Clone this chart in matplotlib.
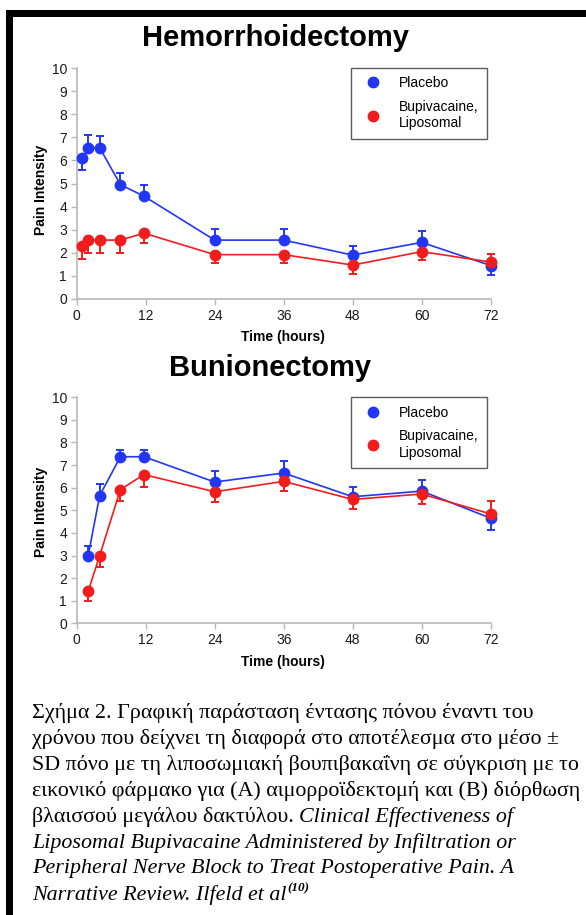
import matplotlib
matplotlib.use("Agg")
import matplotlib.pyplot as plt
from matplotlib.lines import Line2D
from matplotlib.patches import Rectangle

# hemorrhoidectomy: time (h), mean pain and one-sided SD (+1 up, -1 down)
hem_hours = [1, 2, 4, 7.6, 11.7, 24, 36, 48, 60, 72]
hem_placebo = [6.1, 6.55, 6.55, 4.95, 4.45, 2.55, 2.55, 1.9, 2.45, 1.45]
hem_placebo_sd = [0.5, 0.55, 0.5, 0.5, 0.5, 0.5, 0.5, 0.4, 0.5, 0.42]
hem_placebo_dir = [-1, 1, 1, 1, 1, 1, 1, 1, 1, -1]
hem_lipo = [2.3, 2.55, 2.55, 2.55, 2.85, 1.92, 1.92, 1.47, 2.05, 1.6]
hem_lipo_sd = [0.57, 0.58, 0.56, 0.56, 0.42, 0.36, 0.36, 0.37, 0.37, 0.33]
hem_lipo_dir = [-1, -1, -1, -1, -1, -1, -1, -1, -1, 1]

# bunionectomy
bun_hours = [2, 4, 7.6, 11.7, 24, 36, 48, 60, 72]
bun_placebo = [3.0, 5.65, 7.37, 7.37, 6.25, 6.65, 5.6, 5.85, 4.65]
bun_placebo_sd = [0.4, 0.5, 0.32, 0.32, 0.47, 0.52, 0.42, 0.51, 0.53]
bun_placebo_dir = [1, 1, 1, 1, 1, 1, 1, 1, -1]
bun_lipo = [1.42, 3.0, 5.92, 6.58, 5.82, 6.28, 5.48, 5.72, 4.84]
bun_lipo_sd = [0.43, 0.53, 0.51, 0.55, 0.44, 0.43, 0.44, 0.43, 0.56]
bun_lipo_dir = [-1, -1, -1, -1, -1, -1, -1, -1, 1]

x_ticks = [0, 12, 24, 36, 48, 60, 72]
y_ticks = list(range(0, 11))
labels = ["Placebo", "Bupivacaine,\nLiposomal"]

BLUE = "#2236f5"
RED = "#f21c1c"
GRAY = "#b8b8b8"

plt.rcParams["font.family"] = ["Liberation Sans", "DejaVu Sans"]

W, H = 586, 915
fig = plt.figure(figsize=(W / 100, H / 100), dpi=100)


def fx(px):
    return px / W


def fy(py):
    return 1 - py / H


def draw_series(ax, hours, vals, sd, dirs, color):
    lower = [s if d < 0 else 0 for s, d in zip(sd, dirs)]
    upper = [s if d > 0 else 0 for s, d in zip(sd, dirs)]
    ax.errorbar(hours, vals, yerr=[lower, upper], fmt="none", ecolor=color,
                elinewidth=1.4, capsize=3, capthick=1.4, zorder=2, clip_on=False)
    ax.plot(hours, vals, color=color, lw=1.2, marker="o", ms=7.5,
            zorder=3, clip_on=False)


def panel(rect, hours, plc, plc_sd, plc_dir, lip, lip_sd, lip_dir):
    ax = fig.add_axes(rect)
    draw_series(ax, hours, plc, plc_sd, plc_dir, BLUE)
    draw_series(ax, hours, lip, lip_sd, lip_dir, RED)
    ax.set_xlim(0, 72)
    ax.set_ylim(0, 10)
    ax.set_xticks(x_ticks)
    ax.set_yticks(y_ticks)
    for s in ["top", "right"]:
        ax.spines[s].set_visible(False)
    for s in ["left", "bottom"]:
        ax.spines[s].set_color(GRAY)
        ax.spines[s].set_linewidth(1.2)
    ax.tick_params(color=GRAY, length=4, width=1, labelsize=10,
                   labelcolor="#1a1a1a", pad=3)
    handles = [Line2D([], [], ls="none", marker="o", ms=7.5, color=BLUE),
               Line2D([], [], ls="none", marker="o", ms=7.5, color=RED)]
    leg = ax.legend(handles, labels, loc="upper right", bbox_to_anchor=(0.99, 1.0),
                    borderaxespad=0, fancybox=False, fontsize=10, handlelength=2,
                    handletextpad=0.85, borderpad=0.6, labelspacing=0.7)
    leg.get_frame().set_edgecolor("#333333")
    leg.get_frame().set_linewidth(1.0)
    return ax


panel([fx(76.7), fy(299), 414 / W, 231 / H],
      hem_hours, hem_placebo, hem_placebo_sd, hem_placebo_dir,
      hem_lipo, hem_lipo_sd, hem_lipo_dir)
panel([fx(76.7), fy(623.3), 414 / W, 226 / H],
      bun_hours, bun_placebo, bun_placebo_sd, bun_placebo_dir,
      bun_lipo, bun_lipo_sd, bun_lipo_dir)

# panel titles and axis labels
fig.text(fx(275), fy(38), "Hemorrhoidectomy", ha="center", va="center",
         fontsize=21, fontweight="bold")
fig.text(fx(270), fy(368), "Bunionectomy", ha="center", va="center",
         fontsize=21, fontweight="bold")
for yc in [190, 512]:
    fig.text(fx(41), fy(yc), "Pain Intensity", ha="center", va="center",
             rotation=90, fontsize=10, fontweight="bold")
for yc in [337, 662]:
    fig.text(fx(283), fy(yc), "Time (hours)", ha="center", va="center",
             fontsize=10, fontweight="bold")

# black frame along top and left edges
fig.add_artist(Rectangle((fx(6), fy(16.5)), (W - 6) / W, 6.5 / H,
                         transform=fig.transFigure, color="black", lw=0))
fig.add_artist(Rectangle((fx(6), 0), 6.5 / W, fy(10),
                         transform=fig.transFigure, color="black", lw=0))

# caption in serif type, regular Greek followed by the italic reference
serif = ["Liberation Serif", "DejaVu Serif"]
cap_lines = [
    [("Σχήμα 2. Γραφική παράσταση έντασης πόνου έναντι του", "normal")],
    [("χρόνου που δείχνει τη διαφορά στο αποτέλεσμα στο μέσο ±", "normal")],
    [("SD πόνο με τη λιποσωμιακή βουπιβακαΐνη σε σύγκριση με το", "normal")],
    [("εικονικό φάρμακο για (A) αιμορροϊδεκτομή και (B) διόρθωση", "normal")],
    [("βλαισσού μεγάλου δακτύλου.", "normal"),
     ("Clinical Effectiveness of", "italic")],
    [("Liposomal Bupivacaine Administered by Infiltration or", "italic")],
    [("Peripheral Nerve Block to Treat Postoperative Pain. A", "italic")],
    [("Narrative Review. Ilfeld et al", "italic")],
]
renderer = fig.canvas.get_renderer()
line_y = 713
for parts in cap_lines:
    x = 32
    for text, style in parts:
        t = fig.text(fx(x), fy(line_y), text, ha="left", va="center",
                     fontsize=15.8, fontstyle=style, family=serif)
        x = t.get_window_extent(renderer).x1 + 5
    last_y = line_y
    line_y += 26
fig.text(fx(x - 4), fy(last_y - 7), "(10)", ha="left", va="center",
         fontsize=9.5, fontstyle="italic", fontweight="bold", family=serif)

fig.savefig("out.png", dpi=100)
